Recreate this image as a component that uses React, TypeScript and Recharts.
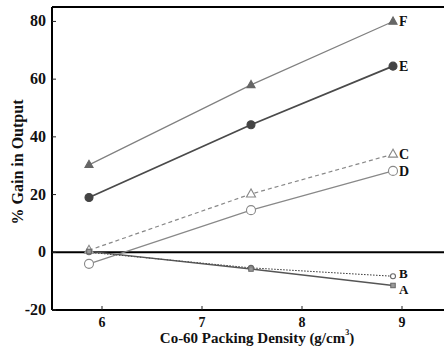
import React from "react";
import { LineChart, Line, XAxis, YAxis, ReferenceLine } from "recharts";

const xValues = [5.87, 7.49, 8.91];
const seriesF = [30.3, 58, 80];
const seriesE = [19, 44.2, 64.5];
const seriesC = [0.7, 20.2, 34];
const seriesD = [-4, 14.6, 28.2];
const seriesB = [0, -5.4, -8.3];
const seriesA = [0.3, -5.8, -11.5];
const xTicks = [6, 7, 8, 9];
const yTicks = [-20, 0, 20, 40, 60, 80];

const data = xValues.map((x, i) => ({
  x,
  F: seriesF[i],
  E: seriesE[i],
  C: seriesC[i],
  D: seriesD[i],
  B: seriesB[i],
  A: seriesA[i],
}));

const FONT = "'Liberation Serif', 'DejaVu Serif', serif";

const YTick = (props: any) => {
  const { x, y, payload } = props;
  return (
    <g>
      <line x1={x + 6} x2={x + 10} y1={y} y2={y} stroke="#222" strokeWidth={1} />
      <text x={x} y={y} dy={5} textAnchor="end" fontFamily={FONT} fontWeight="bold" fontSize={16} fill="#111">
        {payload.value}
      </text>
    </g>
  );
};

const XTick = (props: any) => {
  const { x, y, payload } = props;
  return (
    <g>
      <line x1={x} x2={x} y1={y - 7} y2={y - 11} stroke="#222" strokeWidth={1} />
      <text x={x} y={y} dy={10} textAnchor="middle" fontFamily={FONT} fontWeight="bold" fontSize={14} fill="#111">
        {payload.value}
      </text>
    </g>
  );
};

const makeLabel = (name: string, dy: number, size: number = 14) => (props: any) => {
  const { x, y, index } = props;
  if (index !== xValues.length - 1) return null;
  return (
    <text key={name} x={x + 6} y={y + dy} fontFamily={FONT} fontWeight="bold" fontSize={size} fill="#111">
      {name}
    </text>
  );
};

const triangle = (filled: boolean, color: string, s: number) => (props: any) => {
  const { cx, cy, index } = props;
  if (cx == null || cy == null) return <g key={index} />;
  const pts = `${cx},${cy - s} ${cx - s * 0.9},${cy + s * 0.6} ${cx + s * 0.9},${cy + s * 0.6}`;
  return <polygon key={index} points={pts} fill={filled ? color : "#fff"} stroke={color} strokeWidth={1.1} />;
};

const circle = (filled: boolean, color: string, r: number) => (props: any) => {
  const { cx, cy, index } = props;
  if (cx == null || cy == null) return <g key={index} />;
  return <circle key={index} cx={cx} cy={cy} r={r} fill={filled ? color : "#fff"} stroke={color} strokeWidth={1.1} />;
};

const square = (color: string, s: number) => (props: any) => {
  const { cx, cy, index } = props;
  if (cx == null || cy == null) return <g key={index} />;
  return <rect key={index} x={cx - s / 2} y={cy - s / 2} width={s} height={s} fill="#999" stroke={color} strokeWidth={1} />;
};

export default function App() {
  return (
    <div style={{ position: "absolute", left: 0, top: 0, width: 444, height: 352, overflow: "hidden", background: "#fff" }}>
      <LineChart width={452} height={352} data={data} margin={{ top: 7, right: 0, bottom: 0, left: 0 }}>
        <XAxis
          dataKey="x"
          type="number"
          domain={[5.5, 9.5]}
          ticks={xTicks}
          tickLine={false}
          tickSize={0}
          tickMargin={7}
          tick={<XTick />}
          axisLine={{ stroke: "#000", strokeWidth: 2 }}
          height={42}
          label={() => (
            <text x={257} y={343} textAnchor="middle" fontFamily={FONT} fontWeight="bold" fontSize={15} fill="#111">
              Co-60 Packing Density (g/cm
              <tspan fontSize={8} dy={-8}>3</tspan>
              <tspan dy={8}>)</tspan>
            </text>
          )}
        />
        <YAxis
          type="number"
          domain={[-20, 85]}
          ticks={yTicks}
          tickLine={false}
          tickSize={0}
          tickMargin={6}
          tick={<YTick />}
          axisLine={{ stroke: "#000", strokeWidth: 2 }}
          width={52}
          label={() => (
            <text
              x={17}
              y={162}
              transform="rotate(-90 17 162)"
              textAnchor="middle"
              dominantBaseline="central"
              fontFamily={FONT}
              fontWeight="bold"
              fontSize={16}
              fill="#111"
            >
              % Gain in Output
            </text>
          )}
        />
        <ReferenceLine y={85} stroke="#000" strokeWidth={2} />
        <ReferenceLine y={0} stroke="#000" strokeWidth={2} />
        <Line dataKey="F" stroke="#808080" strokeWidth={1.2} dot={triangle(true, "#666", 4.5)} label={makeLabel("F", 5)} isAnimationActive={false} />
        <Line dataKey="E" stroke="#4a4a4a" strokeWidth={1.8} dot={circle(true, "#444", 4)} label={makeLabel("E", 5)} isAnimationActive={false} />
        <Line dataKey="C" stroke="#888" strokeWidth={1.2} strokeDasharray="4 3" dot={triangle(false, "#888", 5)} label={makeLabel("C", 5)} isAnimationActive={false} />
        <Line dataKey="D" stroke="#888" strokeWidth={1.2} dot={circle(false, "#888", 4.5)} label={makeLabel("D", 5)} isAnimationActive={false} />
        <Line dataKey="B" stroke="#333" strokeWidth={1} strokeDasharray="1.5 1.5" dot={circle(false, "#666", 2.5)} label={makeLabel("B", 2, 13)} isAnimationActive={false} />
        <Line dataKey="A" stroke="#555" strokeWidth={1.4} dot={square("#666", 4.5)} label={makeLabel("A", 9, 13)} isAnimationActive={false} />
      </LineChart>
    </div>
  );
}
